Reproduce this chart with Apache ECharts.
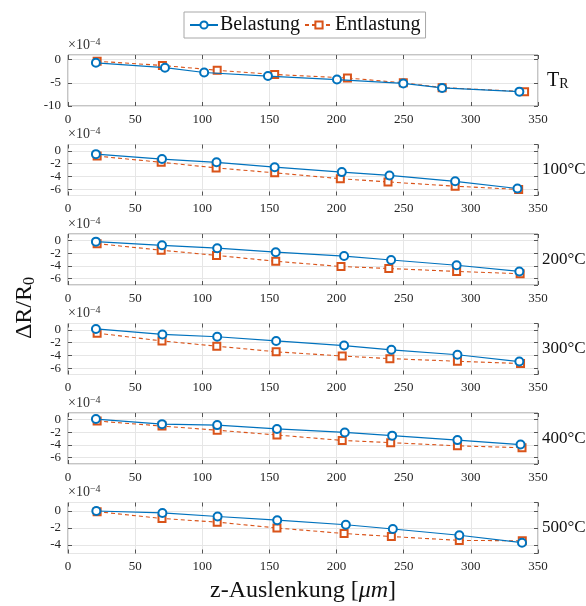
<!DOCTYPE html>
<html>
<head>
<meta charset="utf-8">
<script src="https://cdn.jsdelivr.net/npm/echarts@6/dist/echarts.min.js"></script>
<style>
  html, body { margin: 0; padding: 0; background: #fff; }
  #main { width: 586px; height: 606px; }
</style>
</head>
<body>
<div id="main"></div>
<script>
// values are in units of 1e-4 (axis multiplier shown as x10^-4)
const panelLabels = ['{t|T}{s|R}', '100°C', '200°C', '300°C', '400°C', '500°C'];
const yMin = [-10, -7, -7, -7, -7, -5];

const belastungTR = [[20.8, -0.69], [72.2, -1.74], [101.4, -2.78], [148.9, -3.54], [200.3, -4.3], [249.7, -5.14], [278.6, -6.1], [336.1, -6.9]];
const entlastungTR = [[21.7, -0.35], [70.3, -1.25], [111.1, -2.3], [153.9, -3.2], [208.1, -3.96], [249.7, -5.0], [278.6, -6.04], [340, -6.9]];

const belastung100 = [[20.8, -0.51], [70, -1.28], [110.6, -1.79], [153.9, -2.56], [203.9, -3.33], [239.4, -3.85], [288.3, -4.77], [334.7, -5.9]];
const entlastung100 = [[21.7, -0.82], [69.4, -1.79], [110.3, -2.67], [153.9, -3.44], [202.8, -4.36], [238.3, -4.87], [288.3, -5.54], [335.6, -6.05]];

const belastung200 = [[20.8, -0.2], [70, -0.77], [111.1, -1.23], [154.7, -1.85], [205.6, -2.46], [240.6, -3.08], [289.4, -3.9], [336.1, -4.87]];
const entlastung200 = [[21.7, -0.51], [69.4, -1.54], [110.6, -2.36], [154.7, -3.28], [203.3, -4.1], [238.9, -4.41], [289.4, -4.87], [336.7, -5.23]];

const belastung300 = [[20.8, 0.15], [70.3, -0.72], [111.1, -1.08], [155, -1.74], [205.6, -2.46], [240.8, -3.13], [290, -3.9], [336.1, -4.97]];
const entlastung300 = [[21.7, -0.51], [70, -1.74], [110.8, -2.56], [155, -3.44], [204.2, -4.1], [239.7, -4.51], [290, -4.92], [337, -5.28]];

const belastung400 = [[20.8, 0.05], [70, -0.75], [111.1, -0.9], [155.6, -1.5], [206.1, -2.05], [241.4, -2.55], [290, -3.25], [337, -3.95]];
const entlastung400 = [[21.7, -0.26], [70, -1.05], [111.1, -1.7], [155.6, -2.45], [204.2, -3.3], [240.3, -3.65], [290, -4.15], [338.1, -4.45]];

const belastung500 = [[21.1, 0], [70.3, -0.23], [111.4, -0.65], [155.8, -1.08], [206.9, -1.62], [241.9, -2.12], [291.4, -2.85], [338.1, -3.73]];
const entlastung500 = [[21.7, -0.08], [70, -0.88], [111.1, -1.31], [155.6, -2.0], [205.6, -2.65], [240.8, -3.0], [291.4, -3.46], [338.3, -3.5]];

const belastung = [belastungTR, belastung100, belastung200, belastung300, belastung400, belastung500];
const entlastung = [entlastungTR, entlastung100, entlastung200, entlastung300, entlastung400, entlastung500];

const FONT = 'Liberation Serif';
const BLUE = '#0072BD';
const ORANGE = '#D95319';
const gridTops = [55, 144.5, 234, 323.5, 413, 502.5];

const chart = echarts.init(document.getElementById('main'));

const grids = [], xAxes = [], yAxes = [], series = [];
gridTops.forEach((top, i) => {
  grids.push({
    left: 68, width: 470, top: top, height: 51,
    outerBoundsMode: 'none', containLabel: false,
    show: true, borderColor: '#8a8a8a', borderWidth: 1, backgroundColor: 'transparent'
  });
  const tick = { show: true, inside: true, length: 4, lineStyle: { color: '#555' } };
  xAxes.push({
    type: 'value', gridIndex: i, min: 0, max: 350, interval: 50,
    axisLine: { show: false, onZero: false }, axisTick: tick,
    axisLabel: { fontFamily: FONT, fontSize: 13, color: '#262626', margin: 7 },
    splitLine: { show: true, lineStyle: { color: '#e6e6e6' } },
    name: i === 5 ? '{a|z-Auslenkung [}{i|μm}{a|]}' : '',
    nameLocation: 'middle', nameGap: 25,
    nameTextStyle: {
      rich: {
        a: { fontFamily: FONT, fontSize: 24, color: '#111' },
        i: { fontFamily: FONT, fontSize: 24, fontStyle: 'italic', color: '#111' }
      }
    }
  });
  xAxes.push({
    type: 'value', gridIndex: i, min: 0, max: 350, interval: 50, position: 'top',
    axisLine: { show: false, onZero: false }, axisTick: tick,
    axisLabel: { show: false }, splitLine: { show: false }
  });
  const yBase = {
    type: 'value', gridIndex: i, min: yMin[i], max: 1
  };
  if (i === 0) { yBase.interval = 5; } else { yBase.splitNumber = 4; yBase.minInterval = 2; yBase.maxInterval = 2; }
  yAxes.push(Object.assign({}, yBase, {
    position: 'left',
    axisLine: { show: false, onZero: false }, axisTick: tick,
    axisLabel: { fontFamily: FONT, fontSize: 13, color: '#262626', margin: 7, showMaxLabel: false, showMinLabel: i === 0 },
    splitLine: { show: true, lineStyle: { color: '#e6e6e6' } },
    name: '{a|×10}{b|−4}', nameLocation: 'end', nameGap: 2,
    nameTextStyle: {
      align: 'left', verticalAlign: 'bottom', padding: [0, 0, 0, 0],
      rich: {
        a: { fontFamily: FONT, fontSize: 14, color: '#333', lineHeight: 16 },
        b: { fontFamily: FONT, fontSize: 10, color: '#333', lineHeight: 10, verticalAlign: 'top' }
      }
    }
  }));
  yAxes.push(Object.assign({}, yBase, {
    position: 'right',
    axisLine: { show: false, onZero: false }, axisTick: tick,
    axisLabel: { show: false }, splitLine: { show: false },
    name: panelLabels[i], nameLocation: 'middle', nameRotate: 0, nameGap: i === 0 ? 9 : 4,
    nameTextStyle: {
      fontFamily: FONT, fontSize: 17, color: '#111',
      rich: {
        t: { fontFamily: FONT, fontSize: 20, color: '#111', lineHeight: 22 },
        s: { fontFamily: FONT, fontSize: 14, color: '#111', lineHeight: 12, verticalAlign: 'bottom' }
      }
    }
  }));
  series.push({
    name: 'Belastung', type: 'line', xAxisIndex: i * 2, yAxisIndex: i * 2,
    data: belastung[i], symbol: 'emptyCircle', symbolSize: 8,
    lineStyle: { color: BLUE, width: 1.2 }, itemStyle: { color: BLUE, borderWidth: 1 },
    animation: false, z: 3
  });
  series.push({
    name: 'Entlastung', type: 'line', xAxisIndex: i * 2, yAxisIndex: i * 2,
    data: entlastung[i], symbol: 'emptyRect', symbolSize: 7,
    lineStyle: { color: ORANGE, width: 1.1, type: [4, 3] }, itemStyle: { color: ORANGE, borderWidth: 1 },
    animation: false, z: 2
  });
});

chart.setOption({
  animation: false,
  backgroundColor: '#fff',
  legend: {
    top: 12, left: 184,
    data: ['Belastung', 'Entlastung'],
    borderColor: '#a8a8a8', borderWidth: 1, padding: [3, 5],
    itemGap: 4, itemWidth: 28, itemHeight: 9,
    textStyle: { fontFamily: FONT, fontSize: 20, color: '#111', padding: [0, 0, 0, -3] }
  },
  graphic: [{
    type: 'text', left: 13, top: 277, rotation: Math.PI / 2,
    style: {
      text: '{a|ΔR/R}{b|0}',
      rich: {
        a: { fontFamily: FONT, fontSize: 24, fill: '#111', lineHeight: 26 },
        b: { fontFamily: FONT, fontSize: 16, fill: '#111', lineHeight: 16, verticalAlign: 'bottom' }
      }
    }
  }],
  grid: grids,
  xAxis: xAxes,
  yAxis: yAxes,
  series: series
});
</script>
</body>
</html>
